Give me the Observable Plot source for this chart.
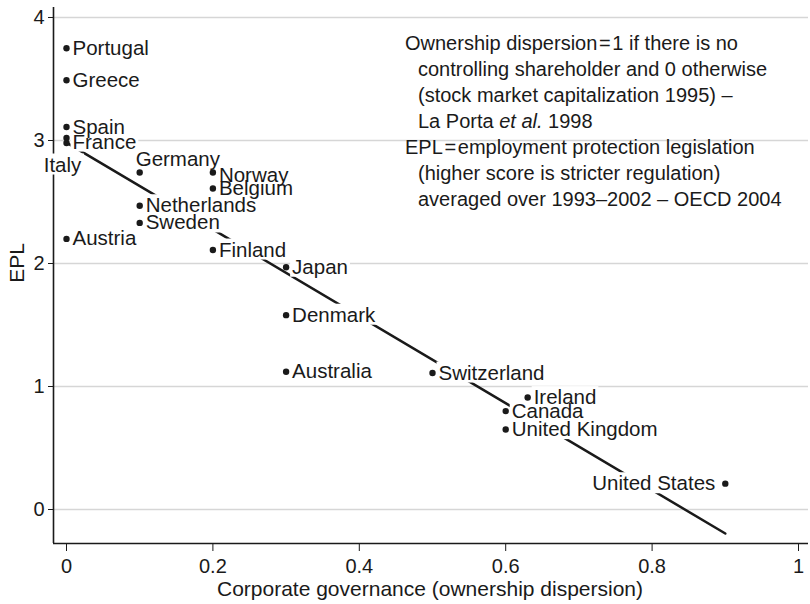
<!DOCTYPE html>
<html><head><meta charset="utf-8">
<script src="https://cdn.jsdelivr.net/npm/d3@7"></script>
<script src="https://cdn.jsdelivr.net/npm/@observablehq/plot@0.6"></script>
<style>
html,body{margin:0;padding:0;background:#fff;}
#chart{width:810px;height:604px;overflow:hidden;}
</style></head><body><div id="chart"></div>
<script>
// ---- data ----
const countries = ["Portugal","Greece","Spain","France","Italy","Germany","Norway","Belgium","Netherlands","Sweden","Austria","Finland","Japan","Denmark","Australia","Switzerland","Ireland","Canada","United Kingdom","United States"];
const ownershipDispersion = [0,0,0,0,0,0.1,0.2,0.2,0.1,0.1,0,0.2,0.3,0.3,0.3,0.5,0.63,0.6,0.6,0.9];
const eplScore = [3.75,3.49,3.11,3.02,2.98,2.74,2.74,2.61,2.47,2.33,2.20,2.11,1.97,1.58,1.12,1.11,0.91,0.80,0.65,0.21];
const xTicks = [0,0.2,0.4,0.6,0.8,1];
const yTicks = [0,1,2,3,4];
const xTitle = "Corporate governance (ownership dispersion)";
const yTitle = "EPL";
const noteLines = [
  "Ownership dispersion\u200a=\u200a1 if there is no",
  "controlling shareholder and 0 otherwise",
  "(stock market capitalization 1995) \u2013",
  "La Porta |et al.| 1998",
  "EPL\u200a=\u200aemployment protection legislation",
  "(higher score is stricter regulation)",
  "averaged over 1993\u20132002 \u2013 OECD 2004"
];

const data = countries.map((c, i) => ({country: c, x: ownershipDispersion[i], y: eplScore[i]}));

// label placement (styling, not data)
const placement = {
  "France": {anchor: "start", dx: 6, dy: 4},
  "Norway": {anchor: "start", dx: 6, dy: 3},
  "Italy": {anchor: "middle", dx: -4, dy: 22},
  "Germany": {anchor: "start", dx: -4, dy: -13},
  "United States": {anchor: "end", dx: -10, dy: 0}
};
const defaultPlace = {anchor: "start", dx: 6, dy: 0};

const FONT = "'Liberation Sans', Arial, Helvetica, sans-serif";
const INK = "#1a1a1a";
const xDomain = [-0.01776, 1.01366];
const yDomain = [-0.2764, 4.0813];

const labelMarks = [];
const groups = d3.group(data, d => placement[d.country] ? d.country : "_default");
for (const [key, rows] of groups) {
  const p = key === "_default" ? defaultPlace : placement[key];
  labelMarks.push(Plot.text(rows, {
    x: "x", y: "y", text: "country",
    textAnchor: p.anchor, dx: p.dx, dy: p.dy,
    fontSize: 20.5, fill: INK
  }));
}

const svg = Plot.plot({
  width: 810,
  height: 604,
  marginLeft: 53,
  marginRight: 2,
  marginTop: 7,
  marginBottom: 61,
  style: {fontFamily: FONT, color: INK, background: "#fff", overflow: "visible"},
  x: {domain: xDomain},
  y: {domain: yDomain},
  marks: [
    Plot.gridY(yTicks, {stroke: "#d6d6d6", strokeOpacity: 1, strokeWidth: 1.5}),
    Plot.ruleX([xDomain[0]], {stroke: INK, strokeWidth: 1.6}),
    Plot.ruleY([yDomain[0]], {stroke: INK, strokeWidth: 1.6}),
    Plot.axisY({ticks: yTicks, tickSize: 5, tickPadding: 4, fontSize: 20, label: null, tickFormat: d => String(d)}),
    Plot.axisX({ticks: xTicks, tickSize: 8, tickPadding: 7, fontSize: 20, label: null, tickFormat: d => String(d)}),
    Plot.linearRegressionY(data, {x: "x", y: "y", ci: 0, stroke: INK, strokeWidth: 2.5}),
    Plot.dot(data, {x: "x", y: "y", r: 3.2, fill: INK, stroke: "none"}),
    ...labelMarks
  ]
});

document.getElementById("chart").appendChild(svg);

const s = d3.select(svg);
// white boxes behind labels (interrupt line / axis like the original)
const svgBox = svg.getBoundingClientRect();
const boxes = [];
svg.querySelectorAll('g[aria-label="text"] text').forEach(t => {
  const b = t.getBoundingClientRect();
  boxes.push({x: b.x - svgBox.x - 2, y: b.y - svgBox.y + 1, w: b.width + 4, h: b.height - 2});
});
const dotG = svg.querySelector('g[aria-label="dot"]');
const boxG = document.createElementNS("http://www.w3.org/2000/svg", "g");
dotG.parentNode.insertBefore(boxG, dotG);
d3.select(boxG).selectAll("rect").data(boxes).join("rect")
  .attr("x", d => d.x).attr("y", d => d.y).attr("width", d => d.w).attr("height", d => d.h)
  .attr("fill", "#fff");

// axis titles
s.append("text").attr("x", 430).attr("y", 596).attr("text-anchor", "middle")
  .attr("font-size", 21).attr("fill", INK).attr("font-family", FONT).text(xTitle);
s.append("text").attr("transform", "translate(24,263) rotate(-90)").attr("text-anchor", "middle")
  .attr("font-size", 21).attr("fill", INK).attr("font-family", FONT).text(yTitle);

// note
noteLines.forEach((line, i) => {
  const indent = (i === 0 || i === 4) ? 0 : 13;
  const t = s.append("text").attr("x", 405 + indent).attr("y", 50 + i * 26)
    .attr("text-anchor", "start")
    .attr("font-size", 20).attr("fill", INK).attr("font-family", FONT);
  line.split("|").forEach((seg, j) => {
    t.append("tspan").attr("font-style", j % 2 ? "italic" : "normal").text(seg);
  });
});
</script></body></html>
